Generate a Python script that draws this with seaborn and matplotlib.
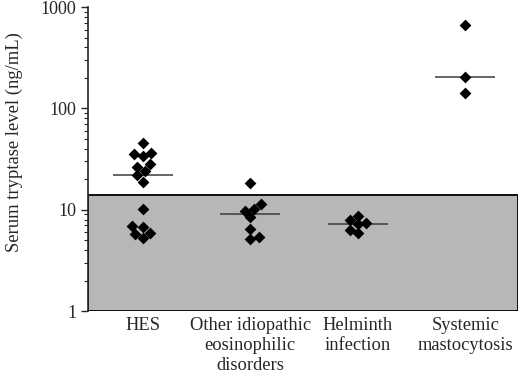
import pandas as pd
import matplotlib
matplotlib.use("Agg")
import matplotlib.pyplot as plt
import seaborn as sns

# Serum tryptase by group (ng/mL)
categories = ["HES", "Other idiopathic\neosinophilic\ndisorders",
              "Helminth\ninfection", "Systemic\nmastocytosis"]
hes = [45.2, 35.5, 36.0, 33.9, 28.3, 26.6, 24.3, 22.0, 18.9, 10.1,
       6.9, 6.7, 5.75, 5.85, 5.3]
other = [18.5, 11.4, 9.8, 10.1, 8.4, 6.4, 5.2, 5.4]
helminth = [7.4, 8.0, 8.7, 5.9, 6.3, 7.2]
mastocytosis = [665, 203, 141]
normal_upper = 14  # upper limit of normal range (shaded)

groups = [hes, other, helminth, mastocytosis]
df = pd.DataFrame({
    "group": [c for c, vals in zip(categories, groups) for _ in vals],
    "tryptase": [v for vals in groups for v in vals],
})

sns.set_style("ticks")
plt.rcParams["font.family"] = ["Liberation Serif", "DejaVu Serif"]

fig = plt.figure(figsize=(5.2, 3.77), dpi=100)
ax = fig.add_axes([0.169, 0.175, 0.827, 0.806])
ax.set_yscale("log")

ax.axhspan(1, normal_upper, facecolor="#b7b7b7", edgecolor="black",
           linewidth=1.3, zorder=0)

sns.swarmplot(data=df, x="group", y="tryptase", order=categories,
              marker="D", color="black", size=6, ax=ax, zorder=3)

meds = df.groupby("group", sort=False)["tryptase"].median()
for i, c in enumerate(categories):
    ax.hlines(meds[c], i - 0.28, i + 0.28, color="#3a3a3a", linewidth=1.1, zorder=2)

ax.set_ylim(1, 1000)
ax.set_xlim(-0.51, 3.49)
ax.set_yticks([1, 10, 100, 1000])
ax.set_yticklabels(["1", "10", "100", "1000"], fontsize=13)
ax.tick_params(axis="y", which="major", length=5, width=1, direction="out")
ax.tick_params(axis="y", which="minor", length=3, width=0.8, direction="out")
ax.tick_params(axis="x", length=0, pad=4, labelsize=13.3)
for lbl in ax.get_xticklabels():
    lbl.set_linespacing(1.25)
ax.set_xlabel("")
ax.set_ylabel("Serum tryptase level (ng/mL)", fontsize=13.4)
ax.yaxis.set_label_coords(-0.15, 0.555)

for side in ["top", "right", "bottom"]:
    ax.spines[side].set_visible(False)
ax.spines["left"].set_linewidth(1.2)

fig.savefig("out.png", dpi=100)
